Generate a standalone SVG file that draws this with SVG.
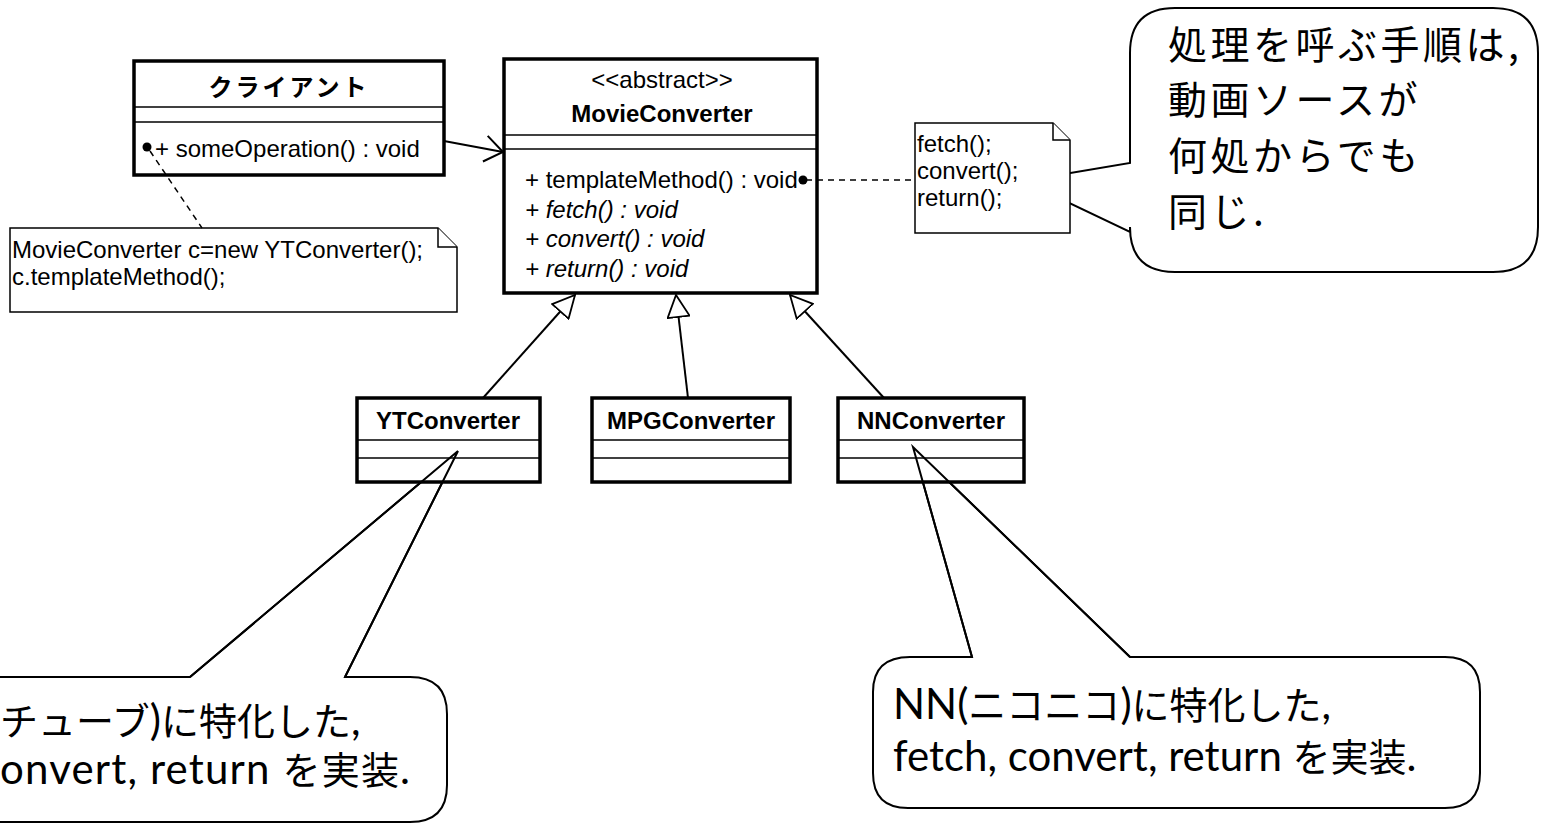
<svg xmlns="http://www.w3.org/2000/svg" width="1542" height="823" viewBox="0 0 1542 823">
<defs>
<style>
.cls{fill:#fff;stroke:#000;stroke-width:3.5}
.div{stroke:#000;stroke-width:1.5}
.note{fill:#fff;stroke:#000;stroke-width:1.5}
.bub{fill:#fff;stroke:#000;stroke-width:2;stroke-linejoin:miter}
.t{font-family:"Liberation Sans",Arial,"Noto Sans CJK JP",sans-serif;font-size:24px;fill:#000}
.b{font-weight:bold}
.i{font-style:italic}
.bt{font-family:Lato,"Noto Sans CJK JP",sans-serif;font-size:42px;fill:#000}
.jp{font-family:"Noto Sans CJK JP",sans-serif;font-size:38px}
.jp2{font-family:"Noto Sans CJK JP",sans-serif;font-size:39px;letter-spacing:3.5px;fill:#000}
.ln{stroke:#000;stroke-width:2;fill:none}
.dash{stroke:#000;stroke-width:1.5;stroke-dasharray:6 5;fill:none}
</style>
<marker id="tri" viewBox="0 0 24 24" refX="23" refY="12" markerWidth="24" markerHeight="24" markerUnits="userSpaceOnUse" orient="auto">
<path d="M1,1 L23,12 L1,23 Z" fill="#fff" stroke="#000" stroke-width="1.8"/>
</marker>
<marker id="open" viewBox="0 0 20 28" refX="19" refY="14" markerWidth="20" markerHeight="28" markerUnits="userSpaceOnUse" orient="auto">
<path d="M1,1 L19,14 L1,27" fill="none" stroke="#000" stroke-width="2"/>
</marker>
</defs>
<rect width="1542" height="823" fill="#fff"/>

<g id="bubble-yt">
<path class="bub" d="M-60,677 L190,677 L458,451 L345,677 L410,677 Q447,677 447,714 L447,785 Q447,822 410,822 L-60,822 Z"/>
<text class="bt" x="0" y="735"><tspan class="jp">チューブ</tspan>)<tspan class="jp">に特化した</tspan>,</text>
<text class="bt" x="0" y="784" textLength="410" lengthAdjust="spacing">onvert, return <tspan class="jp">を実装</tspan>.</text>
</g>

<g id="bubble-nn">
<path class="bub" d="M910,657 L972,657 L913,447 L1130,657 L1445,657 Q1480,657 1480,692 L1480,773 Q1480,808 1445,808 L908,808 Q873,808 873,773 L873,692 Q873,657 910,657 Z"/>
<text class="bt" x="893" y="719">NN(<tspan class="jp">ニコニコ</tspan>)<tspan class="jp">に特化した</tspan>,</text>
<text class="bt" x="893" y="771">fetch, convert, return <tspan class="jp">を実装</tspan>.</text>
</g>

<g id="bubble-top">
<path class="bub" d="M1175,8 L1493,8 Q1538,8 1538,53 L1538,227 Q1538,272 1493,272 L1175,272 Q1130,272 1130,227 L1130,232 L1023,181 L1130,163 L1130,53 Q1130,8 1175,8 Z"/>
<text class="jp2" x="1168" y="59">処理を呼ぶ手順は,</text>
<text class="jp2" x="1168" y="114">動画ソースが</text>
<text class="jp2" x="1168" y="170">何処からでも</text>
<text class="jp2" x="1168" y="226">同じ.</text>
</g>

<g id="client">
<rect class="cls" x="134" y="61" width="310" height="114"/>
<line class="div" x1="134" y1="107" x2="444" y2="107"/>
<line class="div" x1="134" y1="122" x2="444" y2="122"/>
<text class="t b" x="289" y="96" text-anchor="middle" font-size="23" letter-spacing="3">クライアント</text>
<text class="t" x="155" y="157">+ someOperation() : void</text>
</g>

<g id="movieconverter">
<rect class="cls" x="504" y="59" width="313" height="234"/>
<line class="div" x1="504" y1="135" x2="817" y2="135"/>
<line class="div" x1="504" y1="149" x2="817" y2="149"/>
<text class="t" x="662" y="88" text-anchor="middle">&lt;&lt;abstract&gt;&gt;</text>
<text class="t b" x="662" y="122" text-anchor="middle">MovieConverter</text>
<text class="t" x="525" y="188">+ templateMethod() : void</text>
<text class="t i" x="525" y="218">+ fetch() : void</text>
<text class="t i" x="525" y="247">+ convert() : void</text>
<text class="t i" x="525" y="277">+ return() : void</text>
</g>

<g id="client-note">
<path class="note" d="M10,228 L438,228 L457,247 L457,312 L10,312 Z"/>
<path class="note" d="M438,228 L438,247 L457,247" fill="none"/>
<text class="t" x="12" y="258">MovieConverter c=new YTConverter();</text>
<text class="t" x="12" y="285">c.templateMethod();</text>
</g>

<g id="template-note">
<path class="note" d="M915,123 L1053,123 L1070,140 L1070,233 L915,233 Z"/>
<path class="note" d="M1053,123 L1053,140 L1070,140" fill="none"/>
<text class="t" font-size="20" x="917" y="152">fetch();</text>
<text class="t" font-size="20" x="917" y="179">convert();</text>
<text class="t" font-size="20" x="917" y="206">return();</text>
</g>

<g id="ytconverter">
<rect class="cls" x="357" y="398" width="183" height="84"/>
<line class="div" x1="357" y1="440" x2="540" y2="440"/>
<line class="div" x1="357" y1="458" x2="540" y2="458"/>
<text class="t b" x="448" y="429" text-anchor="middle">YTConverter</text>
</g>

<g id="mpgconverter">
<rect class="cls" x="592" y="398" width="198" height="84"/>
<line class="div" x1="592" y1="440" x2="790" y2="440"/>
<line class="div" x1="592" y1="458" x2="790" y2="458"/>
<text class="t b" x="691" y="429" text-anchor="middle">MPGConverter</text>
</g>

<g id="nnconverter">
<rect class="cls" x="838" y="398" width="186" height="84"/>
<line class="div" x1="838" y1="440" x2="1024" y2="440"/>
<line class="div" x1="838" y1="458" x2="1024" y2="458"/>
<text class="t b" x="931" y="429" text-anchor="middle">NNConverter</text>
</g>

<g id="connectors">
<line class="ln" x1="444" y1="141" x2="503" y2="152" marker-end="url(#open)"/>
<line class="ln" x1="483" y1="398" x2="575" y2="295" marker-end="url(#tri)"/>
<line class="ln" x1="688" y1="398" x2="676" y2="295" marker-end="url(#tri)"/>
<line class="ln" x1="884" y1="398" x2="790" y2="295" marker-end="url(#tri)"/>
<line class="dash" x1="150" y1="151" x2="202" y2="228"/>
<line class="dash" x1="806" y1="180" x2="915" y2="180"/>
<circle cx="147" cy="147" r="4.5" fill="#000"/>
<circle cx="803" cy="180" r="4.5" fill="#000"/>
<path class="ln" d="M190,677 L458,451 L345,677"/>
<path class="ln" d="M972,657 L913,447 L1130,657"/>
</g>
</svg>
